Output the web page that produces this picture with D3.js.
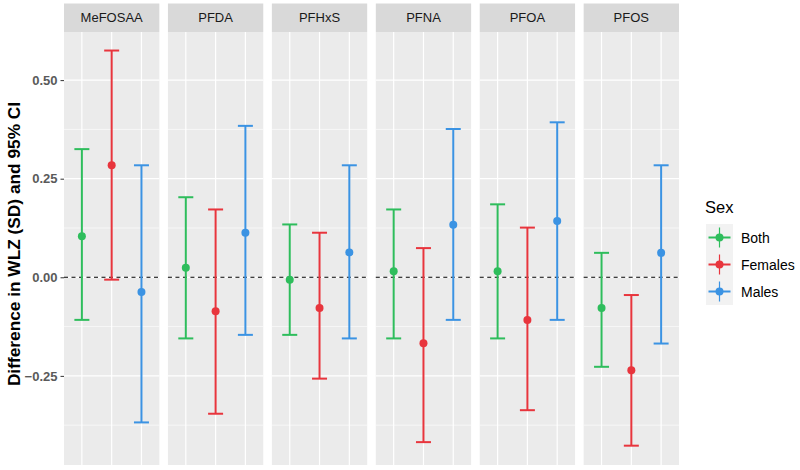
<!DOCTYPE html>
<html><head><meta charset="utf-8">
<script src="https://cdn.jsdelivr.net/npm/d3@7"></script>
<style>body{margin:0;background:#fff}svg{display:block}text{font-family:"Liberation Sans",Arial,sans-serif}</style>
</head><body><svg id="c" width="800" height="470"></svg>
<script>
const chemicals = ["MeFOSAA","PFDA","PFHxS","PFNA","PFOA","PFOS"];
const sexes = ["Both","Females","Males"];
const colors = ["#2ebd5c","#e8353d","#3b93e3"];
const estimate = {
  Both:    [0.104, 0.024, -0.006, 0.015, 0.015, -0.078],
  Females: [0.284, -0.086, -0.078, -0.167, -0.108, -0.236],
  Males:   [-0.037, 0.113, 0.063, 0.133, 0.143, 0.062]
};
const lower = {
  Both:    [-0.108, -0.155, -0.146, -0.155, -0.155, -0.227],
  Females: [-0.006, -0.346, -0.257, -0.418, -0.337, -0.427],
  Males:   [-0.368, -0.146, -0.155, -0.108, -0.108, -0.168]
};
const upper = {
  Both:    [0.325, 0.203, 0.134, 0.172, 0.185, 0.062],
  Females: [0.575, 0.172, 0.113, 0.074, 0.126, -0.045],
  Males:   [0.284, 0.384, 0.284, 0.376, 0.393, 0.284]
};
const yTicks = [-0.25, 0, 0.25, 0.5];
const yMinor = [-0.375, -0.125, 0.125, 0.375];

const svg = d3.select("#c");
const panelTop = 32, panelBottom = 465, stripTop = 3.5;
const left = 64, right = 679, gap = 8.6;
const pw = (right - left - gap * 5) / 6;
const y = d3.scaleLinear().domain([-0.476, 0.622]).range([panelBottom, panelTop]);
const px = d3.scaleBand().domain(chemicals).range([left, right + gap]).paddingInner(0).paddingOuter(0);

const color = d3.scaleOrdinal().domain(sexes).range(colors);

chemicals.forEach((chem, ci) => {
  const x0 = px(chem);
  const g = svg.append("g").attr("transform", `translate(${x0},0)`);
  const xs = d3.scalePoint().domain(sexes).range([0, pw]).padding(0.6);
  g.append("rect").attr("x", 0).attr("y", panelTop).attr("width", pw).attr("height", panelBottom - panelTop).attr("fill", "#ebebeb");
  yMinor.forEach(v => g.append("line").attr("x1", 0).attr("x2", pw).attr("y1", y(v)).attr("y2", y(v)).attr("stroke", "#fff").attr("stroke-width", 0.6));
  yTicks.forEach(v => g.append("line").attr("x1", 0).attr("x2", pw).attr("y1", y(v)).attr("y2", y(v)).attr("stroke", "#fff").attr("stroke-width", 1.2));
  sexes.forEach(s => g.append("line").attr("x1", xs(s)).attr("x2", xs(s)).attr("y1", panelTop).attr("y2", panelBottom).attr("stroke", "#fff").attr("stroke-width", 1.2));
  g.append("rect").attr("x", 0).attr("y", stripTop).attr("width", pw).attr("height", panelTop - stripTop).attr("fill", "#d9d9d9");
  g.append("text").attr("x", pw / 2).attr("y", (stripTop + panelTop) / 2 + 4.5).attr("text-anchor", "middle")
    .attr("font-size", 13).attr("fill", "#1a1a1a").text(chem);
  g.append("line").attr("x1", 0).attr("x2", pw).attr("y1", y(0)).attr("y2", y(0))
    .attr("stroke", "#000").attr("stroke-width", 1.1).attr("stroke-dasharray", "4,3.5");
  const cap = 7.5;
  sexes.forEach(s => {
    const cx = xs(s), c = color(s);
    const lo = lower[s][ci], hi = upper[s][ci], est = estimate[s][ci];
    g.append("line").attr("x1", cx).attr("x2", cx).attr("y1", y(lo)).attr("y2", y(hi)).attr("stroke", c).attr("stroke-width", 2);
    g.append("line").attr("x1", cx - cap).attr("x2", cx + cap).attr("y1", y(lo)).attr("y2", y(lo)).attr("stroke", c).attr("stroke-width", 2);
    g.append("line").attr("x1", cx - cap).attr("x2", cx + cap).attr("y1", y(hi)).attr("y2", y(hi)).attr("stroke", c).attr("stroke-width", 2);
    g.append("circle").attr("cx", cx).attr("cy", y(est)).attr("r", 4).attr("fill", c);
  });
});

const yAxis = svg.append("g").attr("transform", `translate(${left},0)`)
  .call(d3.axisLeft(y).tickValues(yTicks).tickFormat(d3.format(".2f")).tickSize(3.5).tickPadding(3));
yAxis.select(".domain").remove();
yAxis.selectAll(".tick line").attr("stroke", "#333").attr("stroke-width", 1);
yAxis.selectAll(".tick text").attr("font-size", 13).attr("font-weight", "bold").attr("fill", "#5a5a5a")
  .attr("font-family", "Liberation Sans, Arial, sans-serif");

svg.append("text").attr("transform", `translate(20,244) rotate(-90)`)
  .attr("text-anchor", "middle").attr("font-size", 17.3).attr("font-weight", "bold").attr("fill", "#000")
  .text("Difference in WLZ (SD) and 95% CI");

const lg = svg.append("g");
lg.append("text").attr("x", 705).attr("y", 213).attr("font-size", 16.5).attr("fill", "#000").text("Sex");
const keyH = 27;
sexes.forEach((s, i) => {
  const ky = 224 + i * keyH;
  const c = color(s);
  lg.append("rect").attr("x", 706).attr("y", ky).attr("width", 27).attr("height", keyH).attr("fill", "#f2f2f2");
  const cx = 719.5, cy = ky + keyH / 2;
  lg.append("line").attr("x1", cx - 11).attr("x2", cx + 11).attr("y1", cy).attr("y2", cy).attr("stroke", c).attr("stroke-width", 2);
  lg.append("line").attr("x1", cx).attr("x2", cx).attr("y1", cy - 10).attr("y2", cy + 10).attr("stroke", c).attr("stroke-width", 1.2);
  lg.append("circle").attr("cx", cx).attr("cy", cy).attr("r", 4).attr("fill", c);
  lg.append("text").attr("x", 741).attr("y", cy + 5).attr("font-size", 14).attr("fill", "#000").text(s);
});
</script></body></html>
